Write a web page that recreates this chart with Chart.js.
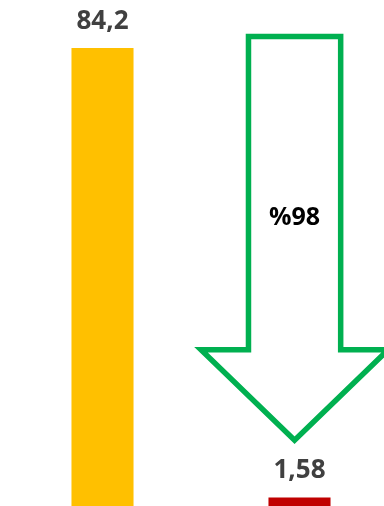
<!DOCTYPE html>
<html>
<head>
<meta charset="utf-8">
<script src="https://cdn.jsdelivr.net/npm/chart.js@4/dist/chart.umd.min.js"></script>
<style>
  html, body { margin: 0; padding: 0; background: #fff; overflow: hidden; }
  #wrap { position: absolute; left: 4px; top: 0; }
</style>
</head>
<body>
<div id="wrap"><canvas id="dropChart" width="394" height="506"></canvas></div>
<script>
"use strict";
const categories = ['Önce', 'Sonra'];
const values = [84.2, 1.58];
const barColors = ['#FFC000', '#C00000'];
const yMax = 93;

// arrow outline, y in data units, x in category index units
const arrowTop = 86.3;
const arrowShoulder = 28.7;
const arrowTip = 12.1;
const arrowCenter = 0.975;
const arrowShaftHalf = 0.234;
const arrowHeadHalf = 0.475;
const arrowTextValue = 53;

const dropPercent = Math.round((1 - values[1] / values[0]) * 100);
const arrowText = '%' + dropPercent;

function formatValue(v) {
    return String(v).replace('.', ',');
}

const valueLabels = {
    id: 'valueLabels',
    afterDatasetsDraw(chart) {
        const ctx = chart.ctx;
        const meta = chart.getDatasetMeta(0);
        ctx.save();
        ctx.font = 'bold 26px "Open Sans"';
        ctx.fillStyle = '#404040';
        ctx.textAlign = 'center';
        ctx.textBaseline = 'alphabetic';
        meta.data.forEach((bar, i) => {
            ctx.fillText(formatValue(values[i]), bar.x, bar.y - 19);
        });
        ctx.restore();
    }
};

const dropArrow = {
    id: 'dropArrow',
    afterDatasetsDraw(chart) {
        const ctx = chart.ctx;
        const xs = chart.scales.x;
        const ys = chart.scales.y;
        const px = v => xs.getPixelForValue(v);
        const top = ys.getPixelForValue(arrowTop);
        const shoulder = ys.getPixelForValue(arrowShoulder);
        const tip = ys.getPixelForValue(arrowTip);
        ctx.save();
        ctx.beginPath();
        ctx.moveTo(px(arrowCenter - arrowShaftHalf), top);
        ctx.lineTo(px(arrowCenter + arrowShaftHalf), top);
        ctx.lineTo(px(arrowCenter + arrowShaftHalf), shoulder);
        ctx.lineTo(px(arrowCenter + arrowHeadHalf), shoulder);
        ctx.lineTo(px(arrowCenter), tip);
        ctx.lineTo(px(arrowCenter - arrowHeadHalf), shoulder);
        ctx.lineTo(px(arrowCenter - arrowShaftHalf), shoulder);
        ctx.closePath();
        ctx.lineWidth = 5.5;
        ctx.lineJoin = 'miter';
        ctx.strokeStyle = '#00B050';
        ctx.stroke();

        ctx.font = 'bold 25px "Open Sans"';
        ctx.fillStyle = '#000';
        ctx.textAlign = 'center';
        ctx.textBaseline = 'middle';
        ctx.fillText(arrowText, px(arrowCenter), ys.getPixelForValue(arrowTextValue));
        ctx.restore();
    }
};

const ctx = document.getElementById('dropChart').getContext('2d');
new Chart(ctx, {
    type: 'bar',
    data: {
        labels: categories,
        datasets: [{
            data: values,
            backgroundColor: barColors,
            borderWidth: 0,
            categoryPercentage: 1,
            barPercentage: 0.315
        }]
    },
    options: {
        responsive: false,
        animation: false,
        layout: { padding: 0 },
        plugins: {
            legend: { display: false },
            tooltip: { enabled: false }
        },
        scales: {
            x: { display: false },
            y: { display: false, min: 0, max: yMax }
        }
    },
    plugins: [dropArrow, valueLabels]
});
</script>
</body>
</html>
